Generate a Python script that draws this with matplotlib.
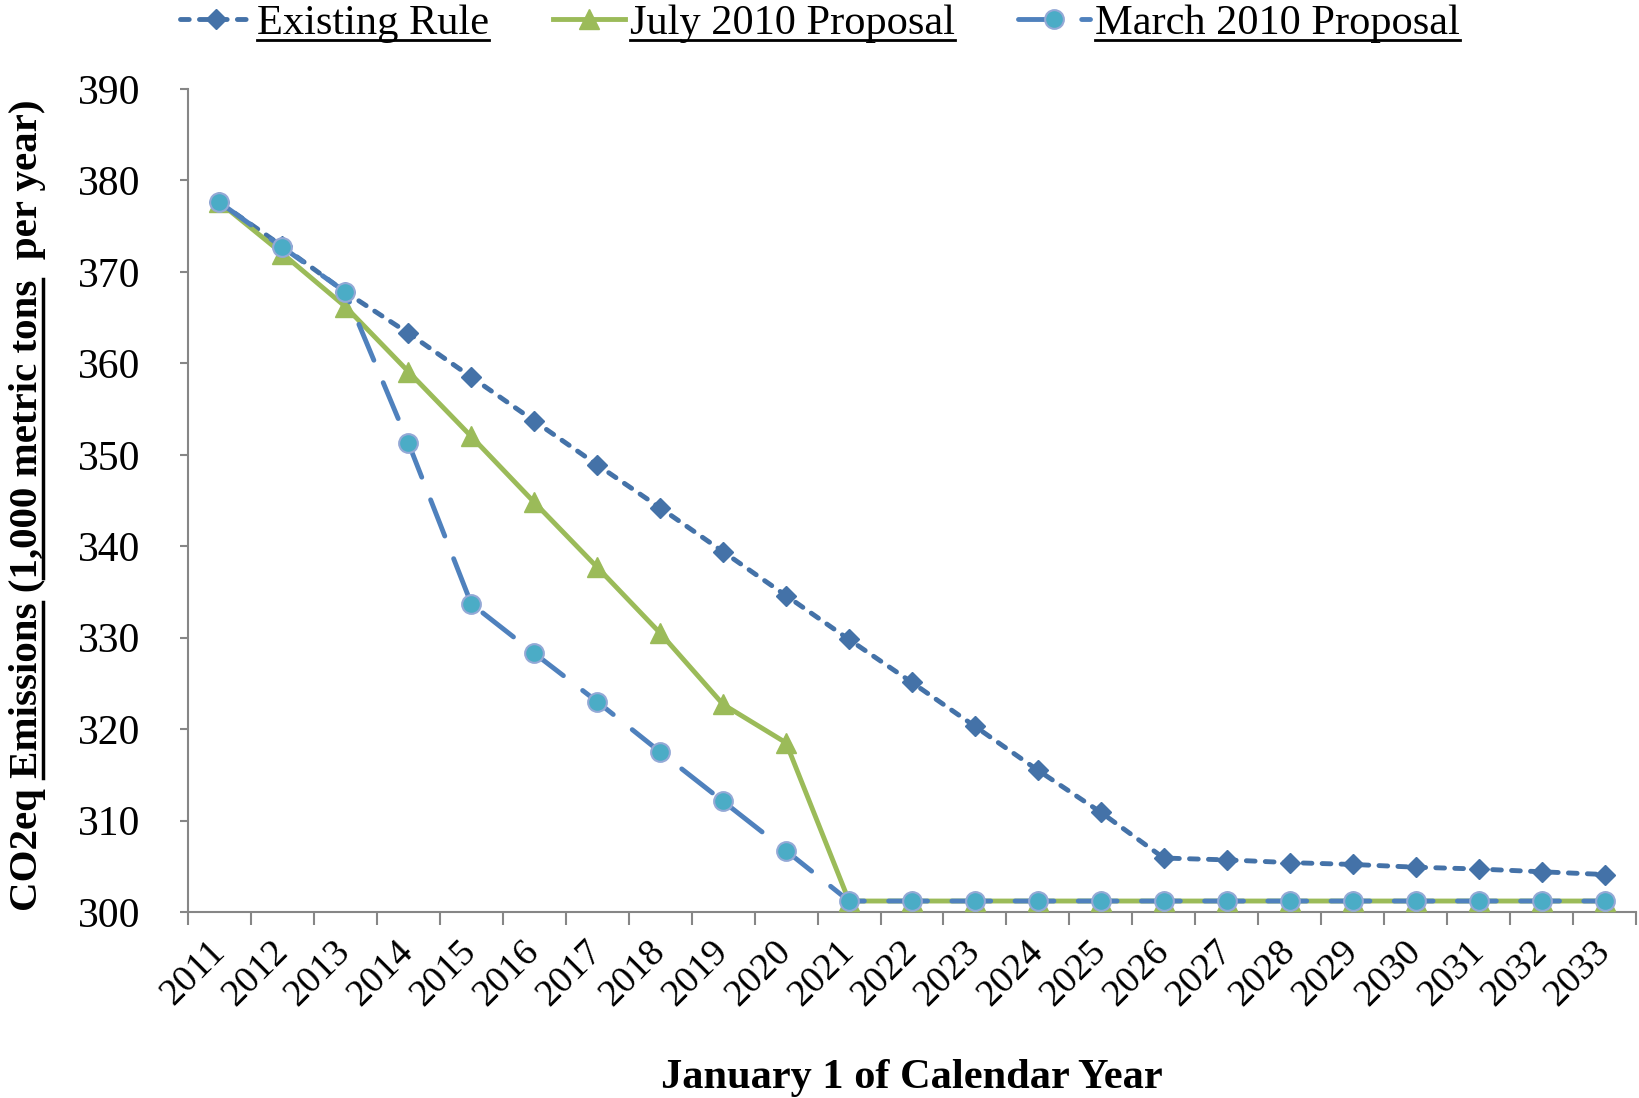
import matplotlib
matplotlib.use('Agg')
import matplotlib.pyplot as plt
from matplotlib.lines import Line2D
from matplotlib.font_manager import FontProperties
import numpy as np

# ---------------- data ----------------
years = [str(y) for y in range(2011, 2034)]
existing_rule = [377.6, 372.8, 367.8, 363.3, 358.5, 353.7, 348.9, 344.2, 339.4, 334.6,
                 329.8, 325.1, 320.3, 315.5, 310.9, 305.9, 305.7, 305.4, 305.2, 304.9,
                 304.7, 304.4, 304.1]
july_2010 = [377.6, 372.0, 366.2, 359.1, 352.0, 344.8, 337.7, 330.5, 322.7, 318.5,
             301.2, 301.2, 301.2, 301.2, 301.2, 301.2, 301.2, 301.2, 301.2, 301.2,
             301.2, 301.2, 301.2]
march_2010 = [377.6, 372.7, 367.8, 351.3, 333.7, 328.3, 323.0, 317.5, 312.1, 306.7,
              301.2, 301.2, 301.2, 301.2, 301.2, 301.2, 301.2, 301.2, 301.2, 301.2,
              301.2, 301.2, 301.2]
series_names = ["Existing Rule", "July 2010 Proposal", "March 2010 Proposal"]
y_ticks = [300, 310, 320, 330, 340, 350, 360, 370, 380, 390]
x_label = "January 1 of Calendar Year"
y_label = "CO2eq Emissions (1,000 metric tons  per year)"

# ---------------- figure ----------------
W, H = 1640, 1098
DPI = 100
fig = plt.figure(figsize=(W / DPI, H / DPI), dpi=DPI)
ax_l, ax_r, ax_t, ax_b = 188, 1636, 89, 912
ax = fig.add_axes([ax_l / W, 1 - ax_b / H, (ax_r - ax_l) / W, (ax_b - ax_t) / H])

serif = 'Liberation Serif'
gray = '#868686'

x = np.arange(len(years))
ax.plot(x, existing_rule, color='#4472A8', lw=3.5, linestyle=(0, (1.8, 2.1)),
        dash_capstyle='round', marker='D', markersize=10.5,
        markerfacecolor='#4472A8', markeredgecolor='#4472A8', label=series_names[0],
        clip_on=False, zorder=3)
ax.plot(x, july_2010, color='#9BBB59', lw=3.5, marker='^', markersize=14,
        markerfacecolor='#9BBB59', markeredgecolor='#9BBB59', label=series_names[1],
        clip_on=False, zorder=4)
ax.plot(x, march_2010, color='#4F81BD', lw=3.5, linestyle=(0, (8, 5)),
        dash_capstyle='round', marker='o', markersize=13.5,
        markerfacecolor='#4BACC6', markeredgecolor='#94A9D6', markeredgewidth=1.5,
        label=series_names[2], clip_on=False, zorder=5)

ax.set_xlim(-0.5, len(years) - 0.5)
ax.set_ylim(y_ticks[0], y_ticks[-1])
ax.set_yticks(y_ticks)
ax.set_yticklabels([str(v) for v in y_ticks], fontfamily=serif, fontsize=30)
ax.tick_params(axis='y', length=6, width=1.5, color=gray, pad=28)

ax.set_xticks(np.arange(-0.5, len(years), 1.0))
ax.set_xticklabels([])
ax.tick_params(axis='x', which='major', length=9, width=1.5, color=gray, direction='out')
ax.set_xticks(x, minor=True)
ax.set_xticklabels(years, minor=True, fontfamily=serif, fontsize=27.5)
ax.tick_params(axis='x', which='minor', length=0, pad=25)
for lab in ax.get_xticklabels(minor=True):
    lab.set_rotation(45)
    lab.set_ha('right')
    lab.set_va('center')
    lab.set_rotation_mode('anchor')

for s in ['top', 'right']:
    ax.spines[s].set_visible(False)
for s in ['left', 'bottom']:
    ax.spines[s].set_color(gray)
    ax.spines[s].set_linewidth(1.5)

# x label
fig.text(912 / W, (H - 1088) / H, x_label, fontfamily=serif, fontweight='bold',
         fontsize=30.5, ha='center', va='baseline')

# legend
leg_prop = FontProperties(family=serif, size=30.5)
handles, labels = ax.get_legend_handles_labels()
leg = fig.legend(handles, labels, loc='upper center', bbox_to_anchor=(0.5, 1.0),
                 ncol=3, frameon=False, prop=leg_prop, handlelength=1.7,
                 handletextpad=0.12, columnspacing=1.5, borderaxespad=0.0, borderpad=0.1)

fig.canvas.draw()
renderer = fig.canvas.get_renderer()

# underline legend texts
em_leg = leg_prop.get_size_in_points() * DPI / 72
_, _, d_lp = renderer.get_text_width_height_descent('lp', leg_prop, ismath=False)
for t in leg.get_texts():
    bb = t.get_window_extent(renderer)
    baseline = bb.y0 + d_lp
    yy = baseline - 0.15 * em_leg
    fig.add_artist(Line2D([bb.x0 / W, bb.x1 / W], [yy / H, yy / H],
                          transform=fig.transFigure, color='black', lw=2.0))

# y label with underlined parts
yl_prop = FontProperties(family=serif, weight='bold', size=29.5)
em_y = yl_prop.get_size_in_points() * DPI / 72


def tw(s):
    w, _, _ = renderer.get_text_width_height_descent(s, yl_prop, ismath=False)
    return w


Wfull = tw(y_label)
yc = H - 505
y0 = yc - Wfull / 2
xb = 37  # baseline x in pixels
fig.text(xb / W, y0 / H, y_label, fontproperties=yl_prop, rotation=90,
         rotation_mode='anchor', ha='left', va='baseline')
segments = [("CO2eq Emissions", "Emissions"),
            ("CO2eq Emissions (1,000 metric tons", "1,000 metric tons")]
xu = xb + 0.15 * em_y
for prefix, word in segments:
    end = tw(prefix)
    start = end - tw(word)
    fig.add_artist(Line2D([xu / W, xu / W], [(y0 + start) / H, (y0 + end) / H],
                          transform=fig.transFigure, color='black', lw=2.5))

fig.savefig('out.png', dpi=DPI)
